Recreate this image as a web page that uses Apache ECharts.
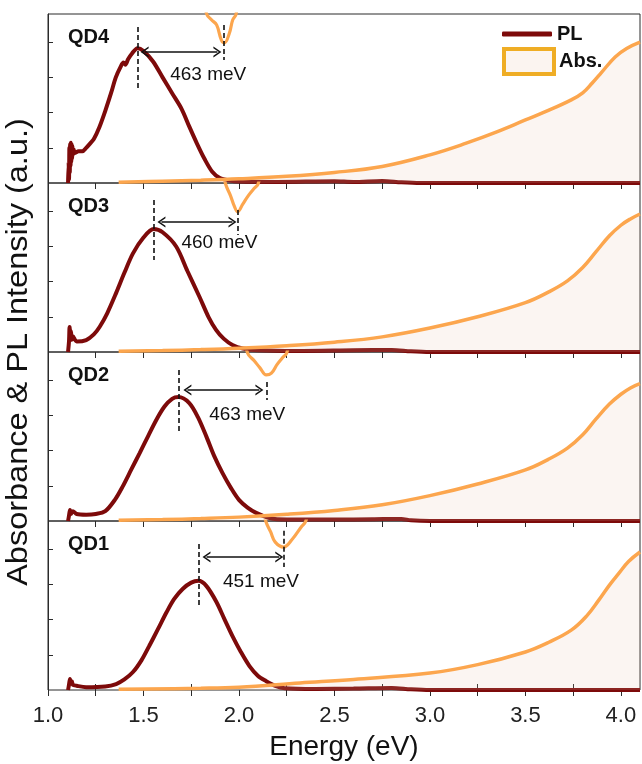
<!DOCTYPE html>
<html>
<head>
<meta charset="utf-8">
<title>QD PL / Abs</title>
<script src="https://cdn.jsdelivr.net/npm/echarts@6/dist/echarts.min.js"></script>
<style>
html, body { margin: 0; padding: 0; background: #fff; }
#chart { width: 642px; height: 764px; }
</style>
</head>
<body>
<div id="chart"></div>
<script>
// panels, top to bottom
const panelNames = ['QD4', 'QD3', 'QD2', 'QD1'];

// PL spectra [energy eV, intensity a.u.]
const plQD4 = [[1.105,0],[1.108,0.6],[1.11,0.1],[1.112,1.0],[1.114,0.3],[1.116,1.1],[1.118,0.5],[1.12,1.14],[1.122,0.6],[1.124,1.1],[1.126,0.7],[1.128,1.05],[1.13,0.8],[1.135,0.95],[1.14,0.85],[1.16,0.9],[1.18,0.9],[1.2,1.0],[1.22,1.12],[1.24,1.25],[1.27,1.6],[1.3,2.05],[1.33,2.55],[1.355,3.0],[1.38,3.3],[1.395,3.42],[1.405,3.36],[1.42,3.52],[1.44,3.68],[1.469,3.83],[1.5,3.75],[1.55,3.45],[1.6,3.0],[1.65,2.55],[1.7,2.1],[1.74,1.6],[1.78,1.12],[1.82,0.68],[1.86,0.32],[1.9,0.14],[1.95,0.07],[2.0,0.04],[2.2,0.03],[2.5,0.05],[2.6,0.03],[2.75,0.06],[2.85,0.02],[2.95,0],[4.1,0]];
const plQD3 = [[1.105,0],[1.11,0.3],[1.113,0.71],[1.117,0.4],[1.12,0.6],[1.125,0.35],[1.13,0.45],[1.15,0.3],[1.2,0.34],[1.24,0.5],[1.27,0.71],[1.31,1.1],[1.357,1.68],[1.4,2.25],[1.445,2.8],[1.5,3.25],[1.553,3.49],[1.6,3.4],[1.672,2.99],[1.73,2.3],[1.793,1.57],[1.84,1.0],[1.88,0.63],[1.92,0.38],[1.966,0.2],[2.02,0.1],[2.1,0.05],[2.3,0.03],[2.6,0.05],[2.8,0.06],[2.9,0.02],[3.0,0],[4.1,0]];
const plQD2 = [[1.105,0],[1.11,0.15],[1.115,0.31],[1.12,0.2],[1.13,0.28],[1.15,0.2],[1.2,0.18],[1.25,0.2],[1.3,0.28],[1.35,0.6],[1.39,0.97],[1.435,1.45],[1.48,1.93],[1.525,2.42],[1.567,2.87],[1.61,3.25],[1.65,3.47],[1.683,3.52],[1.74,3.35],[1.785,2.95],[1.83,2.39],[1.87,1.85],[1.914,1.36],[1.96,0.92],[2.0,0.6],[2.045,0.38],[2.09,0.23],[2.15,0.1],[2.2,0.05],[2.5,0.04],[2.7,0.05],[2.85,0.06],[2.9,0.02],[3.0,0],[4.1,0]];
const plQD1 = [[1.105,0],[1.11,0.15],[1.115,0.31],[1.12,0.18],[1.125,0.25],[1.13,0.15],[1.15,0.12],[1.2,0.08],[1.3,0.1],[1.357,0.17],[1.4,0.3],[1.445,0.51],[1.49,0.85],[1.53,1.25],[1.575,1.72],[1.62,2.2],[1.66,2.58],[1.705,2.87],[1.75,3.05],[1.788,3.1],[1.83,2.95],[1.882,2.5],[1.925,2.0],[1.966,1.53],[2.01,1.08],[2.055,0.68],[2.1,0.4],[2.14,0.26],[2.19,0.12],[2.24,0.05],[2.4,0.03],[2.6,0.04],[2.8,0.06],[2.9,0.02],[3.0,0],[4.1,0]];

// absorption spectra
const absQD4 = [[1.37,0.02],[1.6,0.05],[1.8,0.08],[2.0,0.12],[2.25,0.19],[2.5,0.3],[2.75,0.47],[3.0,0.8],[3.19,1.13],[3.35,1.45],[3.5,1.79],[3.62,2.06],[3.74,2.36],[3.8,2.56],[3.85,2.84],[3.9,3.15],[3.97,3.58],[4.03,3.82],[4.1,4.0]];
const absQD3 = [[1.37,0.02],[1.6,0.04],[1.8,0.07],[2.0,0.11],[2.25,0.18],[2.5,0.28],[2.75,0.43],[3.0,0.68],[3.25,1.0],[3.5,1.4],[3.62,1.7],[3.72,2.02],[3.8,2.4],[3.87,2.85],[3.94,3.3],[4.0,3.6],[4.05,3.78],[4.1,3.92]];
const absQD2 = [[1.37,0.02],[1.6,0.04],[1.8,0.07],[2.0,0.11],[2.25,0.19],[2.5,0.3],[2.75,0.46],[3.0,0.72],[3.25,1.05],[3.5,1.45],[3.62,1.75],[3.72,2.07],[3.8,2.45],[3.87,2.9],[3.94,3.32],[4.0,3.6],[4.05,3.78],[4.1,3.9]];
const absQD1 = [[1.37,0.02],[1.8,0.05],[2.0,0.08],[2.32,0.2],[2.6,0.3],[3.0,0.48],[3.25,0.72],[3.5,1.08],[3.62,1.35],[3.74,1.7],[3.82,2.1],[3.885,2.56],[3.94,2.98],[3.99,3.32],[4.04,3.65],[4.1,3.92]];

// first exciton dip, hangs from the panel top (clipped)
const dipQD4 = [[1.8,5.6],[1.831,4.8],[1.857,4.63],[1.883,4.49],[1.908,4.06],[1.924,3.98],[1.95,4.26],[1.967,4.63],[1.985,4.8],[2.0,5.6]];
const dipQD3 = [[1.9,5.5],[1.93,4.77],[1.955,4.45],[1.975,4.15],[1.993,3.98],[2.02,4.2],[2.05,4.45],[2.08,4.65],[2.1,4.77],[2.13,5.5]];
const dipQD2 = [[2.02,5.5],[2.045,4.77],[2.08,4.55],[2.11,4.35],[2.143,4.15],[2.17,4.2],[2.2,4.45],[2.23,4.65],[2.25,4.77],[2.28,5.5]];
const dipQD1 = [[2.11,5.5],[2.14,4.8],[2.166,4.49],[2.19,4.2],[2.233,4.06],[2.28,4.29],[2.326,4.63],[2.35,4.8],[2.38,5.5]];

// Stokes shift marks
const plPeak = [1.469, 1.553, 1.683, 1.788];
const absPeak = [1.92, 1.993, 2.143, 2.233];
const shiftLabels = ['463 meV', '460 meV', '463 meV', '451 meV'];
const plDashY = [[4.43, 2.7], [4.32, 2.61], [4.29, 2.53], [4.15, 2.39]];
const absDashY = [[4.49, 3.49], [4.03, 3.32], [3.95, 3.44], [4.52, 3.49]];
const arrowX = [[1.506, 1.887], [1.594, 1.966], [1.73, 2.107], [1.83, 2.211]];
const arrowY = [3.72, 3.69, 3.72, 3.78];
const labelXY = [[1.839, 3.07], [1.898, 3.1], [2.043, 3.01], [2.115, 3.07]];

// ticks
const xLabelValues = [1.0, 1.5, 2.0, 2.5, 3.0, 3.5, 4.0];
const xTickValues = [1.0, 1.25, 1.5, 1.75, 2.0, 2.25, 2.5, 2.75, 3.0, 3.25, 3.5, 3.75, 4.0];
const xMinorValues = [1.25, 1.75, 2.25, 2.75, 3.25, 3.75];
const yTickValues = [1, 2, 3, 4];

const plData = [plQD4, plQD3, plQD2, plQD1];
const absData = [absQD4, absQD3, absQD2, absQD1];
const dipData = [dipQD4, dipQD3, dipQD2, dipQD1];

const gridTop = [14, 183, 352, 521];
const gridH = 169;
const plColor = '#7d0a0a';
const absColor = '#fca64e';
const axisColor = '#2b2b2b';
const fontFamily = '"Liberation Sans", Arial, sans-serif';
// open chevron, pointing up
const chevron = 'path://M0,10 L5,0 L10,10 L8.4,10 L5,3.2 L1.6,10 Z';

const chart = echarts.init(document.getElementById('chart'));

let grid = [], xAxis = [], yAxis = [], series = [], graphic = [];

panelNames.forEach(function (name, i) {
    grid.push({
        left: 48, right: 2, top: gridTop[i], height: gridH,
        show: true, borderColor: axisColor, borderWidth: 1
    });
    // top axis of every panel, ticks pointing in
    xAxis.push({
        type: 'value', gridIndex: i, position: 'top', min: 1.0, max: 4.1,
        axisLine: { show: false },
        axisTick: { show: true, inside: true, length: 6, customValues: xTickValues, lineStyle: { color: axisColor } },
        axisLabel: { show: false },
        splitLine: { show: false }
    });
    yAxis.push({
        type: 'value', gridIndex: i, min: 0, max: 4.8,
        axisLine: { show: true, lineStyle: { color: axisColor } },
        axisTick: { show: true, inside: true, length: 5, customValues: yTickValues, lineStyle: { color: axisColor } },
        axisLabel: { show: false },
        splitLine: { show: false }
    });

    series.push({
        type: 'line', name: 'PL', xAxisIndex: i, yAxisIndex: i,
        data: plData[i], symbol: 'none', smooth: 0.3, z: 2,
        lineStyle: { color: plColor, width: 4 },
        itemStyle: { color: plColor },
        markLine: {
            silent: true, symbol: ['none', 'none'],
            label: { show: false },
            lineStyle: { color: '#111', width: 1.6, type: [5, 3] },
            data: [
                [{ coord: [plPeak[i], plDashY[i][0]] }, { coord: [plPeak[i], plDashY[i][1]] }],
                [{ coord: [absPeak[i], absDashY[i][0]] }, { coord: [absPeak[i], absDashY[i][1]] }],
                [
                    { coord: [arrowX[i][0], arrowY[i]], symbol: chevron, symbolSize: [11, 8], lineStyle: { type: 'solid', width: 1.6, color: '#111' } },
                    { coord: [arrowX[i][1], arrowY[i]], symbol: chevron, symbolSize: [11, 8] }
                ]
            ]
        },
        markPoint: {
            silent: true, symbol: 'rect', symbolSize: 1,
            itemStyle: { color: 'rgba(0,0,0,0)' },
            label: {
                show: true, position: 'inside', color: '#111',
                fontSize: 19, fontFamily: fontFamily,
                formatter: function () { return shiftLabels[i]; }
            },
            data: [{ coord: labelXY[i] }]
        }
    });
    series.push({
        type: 'line', name: 'Abs.', xAxisIndex: i, yAxisIndex: i,
        data: absData[i], symbol: 'none', smooth: 0.4, z: 3,
        lineStyle: { color: absColor, width: 3.5 },
        itemStyle: { color: absColor },
        areaStyle: { color: 'rgba(232,190,172,0.22)', origin: 'start' }
    });
    series.push({
        type: 'line', name: 'Abs.', xAxisIndex: i, yAxisIndex: i,
        data: dipData[i], symbol: 'none', smooth: 0.4, z: 3,
        lineStyle: { color: absColor, width: 3.2 },
        itemStyle: { color: absColor }
    });

    graphic.push({
        type: 'text', left: 68, top: gridTop[i] + 13,
        style: { text: name, font: 'bold 20px ' + fontFamily, fill: '#111' }
    });
});

// labelled bottom axis of the lowest panel
xAxis.push({
    type: 'value', gridIndex: 3, position: 'bottom', min: 1.0, max: 4.1,
    name: 'Energy (eV)', nameLocation: 'middle', nameGap: 43,
    nameTextStyle: { fontSize: 28, color: '#111', fontFamily: fontFamily },
    axisLine: { show: false },
    axisTick: { show: true, inside: false, length: 6, customValues: xLabelValues, lineStyle: { color: axisColor } },
    axisLabel: {
        show: true, customValues: xLabelValues, fontSize: 22, color: '#222', margin: 15,
        fontFamily: fontFamily,
        formatter: function (v) { return v.toFixed(1); }
    },
    splitLine: { show: false }
});
// minor ticks pointing in, on a copy of the lowest panel
grid.push({ left: 48, right: 2, top: gridTop[3], height: gridH, show: false });
xAxis.push({
    type: 'value', gridIndex: 4, position: 'bottom', min: 1.0, max: 4.1,
    axisLine: { show: false },
    axisTick: { show: true, inside: true, length: 6, customValues: xMinorValues, lineStyle: { color: axisColor } },
    axisLabel: { show: false },
    splitLine: { show: false }
});
yAxis.push({ type: 'value', gridIndex: 4, min: 0, max: 4.8, show: false });

graphic.push({
    type: 'text', x: 19, y: 352, rotation: Math.PI / 2, scaleX: 1.12,
    style: {
        text: 'Absorbance & PL Intensity (a.u.)', font: '29px ' + fontFamily,
        fill: '#111', align: 'center', verticalAlign: 'middle'
    }
});

chart.setOption({
    animation: false,
    textStyle: { fontFamily: fontFamily },
    grid: grid,
    xAxis: xAxis,
    yAxis: yAxis,
    legend: [{
        left: 502, top: 24, padding: 0, orient: 'vertical',
        itemWidth: 50, itemHeight: 5, selectedMode: false,
        textStyle: { fontSize: 20, fontWeight: 'bold', color: '#111' },
        data: [{ name: 'PL', icon: 'roundRect', itemStyle: { color: plColor } }]
    }, {
        left: 502, top: 47, padding: 0, orient: 'vertical',
        itemWidth: 50, itemHeight: 25, selectedMode: false,
        textStyle: { fontSize: 20, fontWeight: 'bold', color: '#111' },
        data: [{ name: 'Abs.', icon: 'rect', itemStyle: { color: '#fbf4f0', borderColor: '#efad25', borderWidth: 4 } }]
    }],
    graphic: graphic,
    series: series
});
</script>
</body>
</html>
